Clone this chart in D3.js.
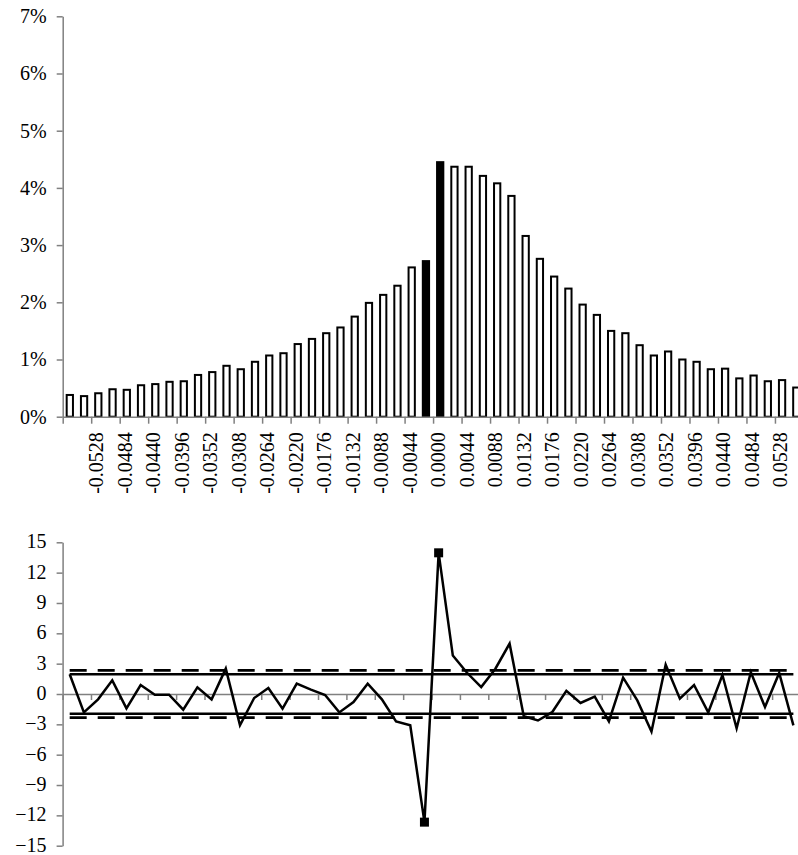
<!DOCTYPE html>
<html>
<head>
<meta charset="utf-8">
<script src="https://cdn.jsdelivr.net/npm/d3@7"></script>
<style>
  body { margin: 0; background: #fff; }
  svg { display: block; }
</style>
</head>
<body>
<div class="chart"></div>
<script>
// bin lower bounds (width 0.0022)
const categories = [
  '-0.0572', '-0.0550', '-0.0528', '-0.0506', '-0.0484', '-0.0462', '-0.0440', '-0.0418',
  '-0.0396', '-0.0374', '-0.0352', '-0.0330', '-0.0308', '-0.0286', '-0.0264', '-0.0242',
  '-0.0220', '-0.0198', '-0.0176', '-0.0154', '-0.0132', '-0.0110', '-0.0088', '-0.0066',
  '-0.0044', '-0.0022', '0.0000', '0.0022', '0.0044', '0.0066', '0.0088', '0.0110',
  '0.0132', '0.0154', '0.0176', '0.0198', '0.0220', '0.0242', '0.0264', '0.0286',
  '0.0308', '0.0330', '0.0352', '0.0374', '0.0396', '0.0418', '0.0440', '0.0462',
  '0.0484', '0.0506', '0.0528', '0.0550'
];

// share of observations per bin, in %
const frequency = [
  0.38, 0.36, 0.41, 0.48, 0.47, 0.55, 0.57, 0.61, 0.62, 0.73, 0.78, 0.89, 0.83,
  0.96, 1.07, 1.11, 1.27, 1.36, 1.46, 1.56, 1.75, 1.99, 2.13, 2.29, 2.61, 2.72,
  4.45, 4.37, 4.37, 4.21, 4.08, 3.86, 3.16, 2.76, 2.45, 2.24, 1.96, 1.78, 1.50,
  1.46, 1.25, 1.07, 1.14, 1.00, 0.96, 0.83, 0.84, 0.67, 0.72, 0.62, 0.64, 0.51
];

// standardised deviation per bin
const zScore = [
  1.95, -1.82, -0.53, 1.35, -1.42, 0.89, -0.07, -0.07, -1.55, 0.66, -0.53, 2.51, -3.10,
  -0.40, 0.59, -1.45, 1.02, 0.43, -0.10, -1.82, -0.79, 1.02, -0.53, -2.71, -3.10, -12.67,
  13.96, 3.80, 2.10, 0.69, 2.50, 4.98, -2.20, -2.62, -1.80, 0.32, -0.89, -0.26, -2.71,
  1.62, -0.63, -3.70, 2.90, -0.46, 0.89, -1.82, 1.88, -3.40, 2.15, -1.29, 2.08, -3.10
];

const highlighted = ['-0.0022', '0.0000'];

const tickLabels = [
  '-0.0528', '-0.0484', '-0.0440', '-0.0396', '-0.0352', '-0.0308', '-0.0264',
  '-0.0220', '-0.0176', '-0.0132', '-0.0088', '-0.0044', '0.0000', '0.0044',
  '0.0088', '0.0132', '0.0176', '0.0220', '0.0264', '0.0308', '0.0352', '0.0396',
  '0.0440', '0.0484', '0.0528'
];

const pctTicks = [0, 1, 2, 3, 4, 5, 6, 7];
const zTicks = [-15, -12, -9, -6, -3, 0, 3, 6, 9, 12, 15];
const limits95 = [-1.96, 1.96];
const limits99 = [-2.33, 2.33];

const width = 798;
const height = 855;
const axisColor = '#808080';
const fontFamily = '"Liberation Serif", "Times New Roman", serif';
const fontSize = 20;

const svg = d3.select('.chart')
              .append('svg:svg')
              .attr('width', width)
              .attr('height', height);

// d3 axes put their own sans-serif font on the group, undo that
const styleAxis = g => g
  .attr('font-family', fontFamily)
  .attr('font-size', fontSize)
  .call(g => g.selectAll('.domain, line').attr('stroke', axisColor).attr('stroke-width', 1.5))
  .call(g => g.selectAll('text').attr('fill', '#000'));

// ---------- top: histogram ----------
const histBox = {left: 62.7, right: 62.7 + 52 * 14.245, top: 16.3, bottom: 416.7};

const x = d3.scaleBand()
            .domain(categories)
            .range([histBox.left, histBox.right])
            .paddingInner(0.56)
            .paddingOuter(0.28);

// boundaries between bins, by index
const xEdge = d3.scaleLinear()
                .domain([0, categories.length])
                .range([histBox.left, histBox.right]);

const y = d3.scaleLinear()
            .domain([0, 7])
            .range([histBox.bottom, histBox.top]);

svg.append('svg:g')
   .selectAll('rect')
   .data(frequency)
   .enter().append('svg:rect')
   .attr('x', (d, i) => x(categories[i]))
   .attr('y', d => y(d))
   .attr('width', x.bandwidth())
   .attr('height', d => y(0) - y(d))
   .attr('fill', (d, i) => highlighted.includes(categories[i]) ? '#000' : '#fff')
   .attr('stroke', '#000')
   .attr('stroke-width', 2);

const edgeTicks = d3.range(0, categories.length + 1, 2);
const labelAt = new Map(tickLabels.map(t => [categories.indexOf(t), t]));

const xAxisTop = g => g
  .attr('transform', `translate(0,${histBox.bottom})`)
  .call(d3.axisBottom(xEdge)
          .tickValues(edgeTicks)
          .tickFormat(i => labelAt.get(i) || '')
          .tickSize(7)
          .tickSizeOuter(0))
  .call(styleAxis)
  .call(g => g.selectAll('text')
              .attr('transform', 'rotate(-90)')
              .attr('text-anchor', 'end')
              .attr('x', -15.5)
              .attr('y', 0)
              .attr('dy', '0.58em'));

const yAxisTop = g => g
  .attr('transform', `translate(${histBox.left},0)`)
  .call(d3.axisLeft(y)
          .tickValues(pctTicks)
          .tickFormat(d => d + '%')
          .tickSize(6)
          .tickPadding(10)
          .tickSizeOuter(0))
  .call(styleAxis);

svg.append('svg:g').call(xAxisTop);
svg.append('svg:g').call(yAxisTop);

// ---------- bottom: z-score line ----------
const zBox = {left: 62.6, right: 62.6 + 52 * 14.19, top: 542.3, bottom: 845.7};

const xp = d3.scalePoint()
             .domain(categories)
             .range([zBox.left, zBox.right])
             .padding(0.5);

const xEdgeB = d3.scaleLinear()
                 .domain([0, categories.length])
                 .range([zBox.left, zBox.right]);

const yz = d3.scaleLinear()
             .domain([-15, 15])
             .range([zBox.bottom, zBox.top]);

const xAxisBot = g => g
  .attr('transform', `translate(0,${yz(0)})`)
  .call(d3.axisBottom(xEdgeB)
          .tickValues(edgeTicks)
          .tickFormat('')
          .tickSize(6)
          .tickSizeOuter(0))
  .call(styleAxis);

const yAxisBot = g => g
  .attr('transform', `translate(${zBox.left},0)`)
  .call(d3.axisLeft(yz)
          .tickValues(zTicks)
          .tickSize(6)
          .tickPadding(10)
          .tickSizeOuter(0))
  .call(styleAxis)
  .call(g => g.selectAll('text').attr('dy', '0.28em'));

svg.append('svg:g').call(xAxisBot);
svg.append('svg:g').call(yAxisBot);

const flat = v => d3.line()
                    .x(c => xp(c))
                    .y(() => yz(v))([categories[0], categories[categories.length - 1]]);

limits99.forEach(v => {
  svg.append('svg:path')
     .attr('d', flat(v))
     .attr('fill', 'none')
     .attr('stroke', '#000')
     .attr('stroke-width', 2.8)
     .attr('stroke-dasharray', '17 11');
});

limits95.forEach(v => {
  svg.append('svg:path')
     .attr('d', flat(v))
     .attr('fill', 'none')
     .attr('stroke', '#000')
     .attr('stroke-width', 2.4);
});

const line = d3.line()
               .x((d, i) => xp(categories[i]))
               .y(d => yz(d));

svg.append('svg:path')
   .datum(zScore)
   .attr('d', line)
   .attr('fill', 'none')
   .attr('stroke', '#000')
   .attr('stroke-width', 2.5)
   .attr('stroke-linejoin', 'miter');

svg.append('svg:g')
   .selectAll('rect')
   .data(categories.filter(c => highlighted.includes(c)))
   .enter().append('svg:rect')
   .attr('x', c => xp(c) - 4.5)
   .attr('y', c => yz(zScore[categories.indexOf(c)]) - 4.5)
   .attr('width', 9)
   .attr('height', 9)
   .attr('fill', '#000');
</script>
</body>
</html>
